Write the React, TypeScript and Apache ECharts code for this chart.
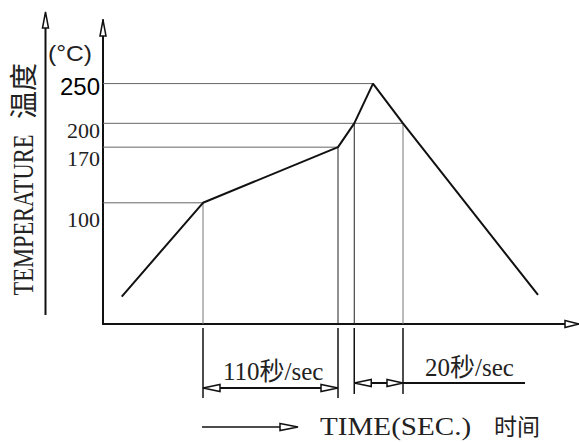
import React, { useEffect, useRef } from "react";
import * as echarts from "echarts";

// ---- data (schematic reflow profile) ----
const profileTimes = [15, 80, 188, 201, 216, 240, 348];
const profileTemps = [-18, 100, 170, 200, 250, 200, -16];
const guideLevels = [100, 170, 200, 250];
const guideEndTimes = [80, 188, 240, 216];
const tickLabels = ["100", "170", "200", "250"];
const dropTimes = [80, 188, 201, 240];
const dropTemps = [100, 170, 200, 200];
const preheatSpan = [80, 188];
const reflowSpan = [201, 240];
const spanLabels = ["110秒/sec", "20秒/sec"];
const unitLabel = "(°C)";
const yTitle = "TEMPERATURE";
const yTitleCn = "温度";
const xTitle = "TIME(SEC.)";
const xTitleCn = "时间";

const X_MIN = 0;
const X_MAX = 380;
const Y_MIN = -52.5;
const Y_MAX = 330;

const SERIF = "'Liberation Serif', 'DejaVu Serif', serif";
const SANS = "'Liberation Sans', Arial, sans-serif";
const CJK = "'Noto Sans CJK SC', sans-serif";
const SERIF_CJK = "'Liberation Serif', 'Noto Sans CJK SC', serif";
const INK = "#111";

function txt(x: number, y: number, text: string, o: any = {}) {
  const align = o.align || "left";
  const valign = o.valign || "middle";
  return {
    type: "text",
    x,
    y,
    z: 20,
    rotation: o.rotation || 0,
    scaleX: o.scaleX || 1,
    scaleY: o.scaleY || 1,
    silent: true,
    style: {
      text,
      fontSize: o.fontSize || 20,
      fontFamily: o.fontFamily || SERIF,
      fontWeight: o.fontWeight || "normal",
      fill: o.fill || "#222",
      align,
      verticalAlign: valign,
      textAlign: align,
      textVerticalAlign: valign,
    },
  };
}

function hollowArrow(pts: number[][]) {
  return {
    type: "polygon",
    z: 20,
    silent: true,
    shape: { points: pts },
    style: { fill: "#fff", stroke: INK, lineWidth: 1.5 },
  };
}

function seg(x1: number, y1: number, x2: number, y2: number, w = 1.5, c = INK) {
  return {
    type: "line",
    z: 15,
    silent: true,
    shape: { x1, y1, x2, y2 },
    style: { stroke: c, lineWidth: w },
  };
}

export default function App() {
  const ref = useRef<HTMLDivElement>(null);

  useEffect(() => {
    const el = ref.current!;
    const chart = echarts.init(el, undefined, { renderer: "svg", width: 579, height: 442 });

    const series: any[] = [];
    guideLevels.forEach((lv, i) => {
      series.push({
        type: "line",
        silent: true,
        symbol: "none",
        z: 1,
        data: [
          [X_MIN, lv],
          [guideEndTimes[i], lv],
        ],
        lineStyle: { color: "#666", width: 1 },
      });
    });
    const dropColors = ["#777", "#222", "#222", "#777"];
    dropTimes.forEach((t, i) => {
      series.push({
        type: "line",
        silent: true,
        symbol: "none",
        z: 1,
        data: [
          [t, dropTemps[i]],
          [t, Y_MIN],
        ],
        lineStyle: { color: dropColors[i], width: 1 },
      });
    });
    series.push({
      type: "line",
      silent: true,
      symbol: "none",
      z: 5,
      data: profileTimes.map((t, i) => [t, profileTemps[i]]),
      lineStyle: { color: INK, width: 2 },
    });

    chart.setOption({
      animation: false,
      backgroundColor: "#fff",
      grid: { left: 103, top: 20, right: 1, bottom: 118 },
      xAxis: {
        type: "value",
        min: X_MIN,
        max: X_MAX,
        axisLine: { show: true, onZero: false, lineStyle: { color: INK, width: 2 } },
        axisTick: { show: false },
        axisLabel: { show: false },
        splitLine: { show: false },
      },
      yAxis: {
        type: "value",
        min: Y_MIN,
        max: Y_MAX,
        axisLine: { show: true, onZero: false, lineStyle: { color: INK, width: 2 } },
        axisTick: { show: false },
        axisLabel: { show: false },
        splitLine: { show: false },
      },
      series,
    });

    const P = (t: number, v: number) => chart.convertToPixel({ gridIndex: 0 }, [t, v]) as number[];
    const [x0, axisY] = P(X_MIN, Y_MIN);
    const yTop = P(X_MIN, Y_MAX)[1];
    const xRight = P(X_MAX, Y_MIN)[0];

    const g: any[] = [];
    // axis arrowheads
    g.push(hollowArrow([[x0 - 3, yTop + 16], [x0, yTop], [x0 + 3, yTop + 16]]));
    g.push(hollowArrow([[xRight - 13, axisY - 3.5], [xRight + 1, axisY], [xRight - 13, axisY + 3.5]]));
    // outer temperature arrow
    g.push(seg(45.5, 315, 45.5, 16, 2));
    g.push(hollowArrow([[42.5, 28], [45.5, 12], [48.5, 28]]));

    // unit & tick labels
    g.push(txt(70, 53, unitLabel, { align: "center", fontSize: 22, fontFamily: SANS, scaleX: 1.12 }));
    const labelOffsets = [17, 11, 7, 3];
    guideLevels.forEach((lv, i) => {
      const y = P(X_MIN, lv)[1] + labelOffsets[i];
      const big = lv === 250;
      g.push(
        txt(x0 - 3, y, tickLabels[i], {
          align: "right",
          fontSize: big ? 24 : 22,
          fontFamily: big ? SANS : SERIF,
          fill: big ? "#000" : "#222",
        })
      );
    });

    // extension lines below axis
    const extEnds = [74, 74, 70, 70];
    dropTimes.forEach((t, i) => {
      const x = P(t, Y_MIN)[0];
      g.push(seg(x, axisY + 4, x, axisY + extEnds[i], 1.5));
    });

    // preheat dimension
    const xa = P(preheatSpan[0], Y_MIN)[0];
    const xb = P(preheatSpan[1], Y_MIN)[0];
    const yd1 = axisY + 64;
    g.push(seg(xa, yd1, xb, yd1, 2));
    g.push(hollowArrow([[xa, yd1], [xa + 17, yd1 - 3.5], [xa + 17, yd1 + 3.5]]));
    g.push(hollowArrow([[xb, yd1], [xb - 17, yd1 - 3.5], [xb - 17, yd1 + 3.5]]));
    g.push(txt(xa + 20, axisY + 47, spanLabels[0], { fontSize: 25, fontFamily: SERIF_CJK }));

    // reflow dimension
    const xc = P(reflowSpan[0], Y_MIN)[0];
    const xd = P(reflowSpan[1], Y_MIN)[0];
    const yd2 = axisY + 59;
    g.push(seg(xc, yd2, 525, yd2, 2));
    g.push(hollowArrow([[xc, yd2], [xc + 17, yd2 - 3.5], [xc + 17, yd2 + 3.5]]));
    g.push(hollowArrow([[xd, yd2], [xd - 16, yd2 - 3.5], [xd - 16, yd2 + 3.5]]));
    g.push(txt(xd + 22, axisY + 43, spanLabels[1], { fontSize: 25, fontFamily: SERIF_CJK }));

    // time axis title with arrow
    const yt = axisY + 103;
    g.push(seg(xa - 1, yt, 282, yt, 1.5));
    g.push(hollowArrow([[280, yt - 3.5], [298, yt], [280, yt + 3.5]]));
    g.push(txt(320, yt - 1, xTitle, { fontSize: 26, fontFamily: SERIF, scaleX: 1.12 }));
    g.push(txt(494, yt - 2, xTitleCn, { fontSize: 23, fontFamily: CJK }));

    // temperature title (rotated)
    g.push(
      txt(23, 215, yTitle, {
        align: "center",
        fontSize: 22.5,
        fontFamily: SERIF,
        rotation: Math.PI / 2,
        scaleY: 1.35,
      })
    );
    g.push(
      txt(22, 91, yTitleCn, {
        align: "center",
        fontSize: 28,
        fontFamily: CJK,
        rotation: Math.PI / 2,
      })
    );

    chart.setOption({ graphic: { elements: g } });

    return () => chart.dispose();
  }, []);

  return (
    <div
      ref={ref}
      style={{ position: "fixed", left: 0, top: 0, width: 579, height: 442, background: "#fff" }}
    />
  );
}
